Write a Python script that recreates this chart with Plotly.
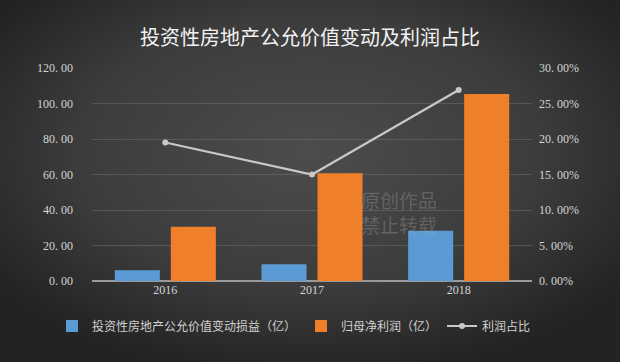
import plotly.graph_objects as go
import base64

years = ["2016", "2017", "2018"]
fair_value_change = [6.0, 9.5, 28.3]      # 投资性房地产公允价值变动损益（亿）
net_profit = [30.5, 60.7, 105.3]          # 归母净利润（亿）
profit_ratio = [0.195, 0.150, 0.269]      # 利润占比

left_ticks = [0, 20, 40, 60, 80, 100, 120]
left_text = ["0. 00", "20. 00", "40. 00", "60. 00", "80. 00", "100. 00", "120. 00"]
right_ticks = [0, 0.05, 0.10, 0.15, 0.20, 0.25, 0.30]
right_text = ["0. 00%", "5. 00%", "10. 00%", "15. 00%", "20. 00%", "25. 00%", "30. 00%"]

svg = """<svg xmlns='http://www.w3.org/2000/svg' width='620' height='362' preserveAspectRatio='none'>
<defs><radialGradient id='g' cx='50%' cy='42%' r='62%'>
<stop offset='0%' stop-color='#4c4c4c'/><stop offset='60%' stop-color='#3c3c3c'/>
<stop offset='100%' stop-color='#232323'/></radialGradient>
</defs>
<rect width='620' height='362' fill='url(#g)'/></svg>"""
bg = "data:image/svg+xml;base64," + base64.b64encode(svg.encode()).decode()

L, R, T, B = 92, 88, 68, 81
PW, PH = 620 - L - R, 362 - T - B

fig = go.Figure()
fig.add_trace(go.Bar(
    x=years, y=fair_value_change, name="投资性房地产公允价值变动损益（亿）",
    marker=dict(color="#5b9bd5", line=dict(width=0)),
    yaxis="y",
))
fig.add_trace(go.Bar(
    x=years, y=net_profit, name="归母净利润（亿）",
    marker=dict(color="#f07f2a", line=dict(width=0)),
    yaxis="y",
))
fig.add_trace(go.Scatter(
    x=years, y=profit_ratio, name="利润占比", mode="lines+markers",
    line=dict(color="#c8c8c8", width=2.2),
    marker=dict(color="#c8c8c8", size=6),
    yaxis="y2",
))

tickfont = dict(family="Liberation Serif, DejaVu Serif, serif", size=12, color="#d4d4d4")

fig.update_layout(
    width=620, height=362,
    margin=dict(l=L, r=R, t=T, b=B, autoexpand=False),
    paper_bgcolor="#2a2a2a",
    plot_bgcolor="rgba(0,0,0,0)",
    images=[dict(source=bg, xref="paper", yref="paper", x=-L / PW, y=1 + T / PH,
                 sizex=620 / PW, sizey=362 / PH, xanchor="left", yanchor="top",
                 sizing="stretch", layer="below")],
    title=dict(text="投资性房地产公允价值变动及利润占比", x=0.5, xanchor="center",
               yref="container", y=1 - 38 / 362, yanchor="middle",
               font=dict(family="Noto Sans CJK SC", size=20, color="#f2f2f2")),
    barmode="group", bargap=0.236, bargroupgap=0.196,
    showlegend=True,
    legend=dict(orientation="h", xref="paper", x=(52 - L) / PW, xanchor="left",
                yref="paper", y=-(326 - 281) / PH, yanchor="middle",
                font=dict(family="Noto Sans CJK SC", size=12, color="#d0d0d0"),
                bgcolor="rgba(0,0,0,0)", itemwidth=30, tracegroupgap=0),
    xaxis=dict(showgrid=False, showline=False, ticks="", tickfont=tickfont,
               zeroline=False),
    yaxis=dict(range=[0, 120], tickvals=left_ticks, ticktext=left_text,
               showgrid=True, gridcolor="rgba(120,120,120,0.45)", gridwidth=1,
               zeroline=True, zerolinecolor="#9a9a9a", zerolinewidth=1.5,
               showline=False, tickfont=tickfont, ticks="", ticklabelstandoff=18),
    yaxis2=dict(range=[0, 0.30], tickvals=right_ticks, ticktext=right_text,
                overlaying="y", side="right", showgrid=False, zeroline=False,
                showline=False, tickfont=tickfont, ticklabelstandoff=6),
    annotations=[dict(text="原创作品<br>禁止转载", x=(399 - L) / PW, y=(281 - 212) / PH,
                      xref="paper", yref="paper",
                      showarrow=False, xanchor="center", yanchor="middle",
                      font=dict(family="Noto Sans CJK SC", size=19, color="rgba(170,170,170,0.32)"),
                      align="left")],
)

fig.write_html("out.html", config={"displayModeBar": False},
               post_script="document.body.style.margin='0';")
